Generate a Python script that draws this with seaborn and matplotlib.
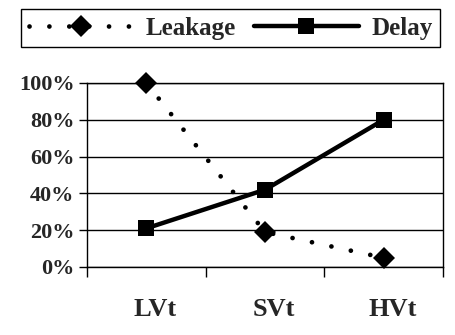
import matplotlib
matplotlib.use("Agg")
import matplotlib.pyplot as plt
import matplotlib.transforms as mtransforms
import seaborn as sns
import pandas as pd
from matplotlib.ticker import FixedLocator, PercentFormatter

categories = ["LVt", "SVt", "HVt"]
leakage = [1.00, 0.19, 0.05]
delay = [0.21, 0.42, 0.80]
y_ticks = [0.0, 0.2, 0.4, 0.6, 0.8, 1.0]

sns.set_style("white")
plt.rcParams["font.family"] = ["Liberation Serif", "DejaVu Serif"]
plt.rcParams["font.weight"] = "bold"

df = pd.DataFrame({
    "cat": categories * 2,
    "value": leakage + delay,
    "series": ["Leakage"] * 3 + ["Delay"] * 3,
})

fig = plt.figure(figsize=(4.56, 3.35), dpi=100)
ax = fig.add_axes([87 / 456, 1 - 267 / 335, (443 - 87) / 456, (267 - 83) / 335])

sns.lineplot(data=df[df.series == "Leakage"], x="cat", y="value", ax=ax,
             color="black", lw=3.4, linestyle=(0, (0.01, 4.2)), dash_capstyle="round",
             marker="D", markersize=11.5, markeredgewidth=0, label="Leakage",
             clip_on=False, zorder=5)
sns.lineplot(data=df[df.series == "Delay"], x="cat", y="value", ax=ax,
             color="black", lw=3.2, marker="s", markersize=11, markeredgewidth=0,
             label="Delay", clip_on=False, zorder=6)

ax.set_xlim(-0.5, 2.5)
ax.set_ylim(0, 1)
ax.set_xlabel("")
ax.set_ylabel("")
ax.yaxis.set_major_locator(FixedLocator(y_ticks))
ax.yaxis.set_major_formatter(PercentFormatter(1.0, decimals=0))
ax.grid(axis="y", color="black", lw=1)
ax.set_axisbelow(True)
for s in ax.spines.values():
    s.set_color("black")
    s.set_linewidth(1)
ax.tick_params(axis="y", left=True, length=6, width=1, color="black", labelsize=16, pad=3)
ax.set_xticks([0, 1, 2])
ax.set_xticklabels(categories)
ax.set_xticks([-0.5, 0.5, 1.5, 2.5], minor=True)
ax.tick_params(axis="x", which="major", bottom=False, labelsize=19, pad=19)
ax.tick_params(axis="x", which="minor", bottom=True, length=7, width=1, color="black")
offset = mtransforms.ScaledTranslation(9 / 100, 0, fig.dpi_scale_trans)
for t in ax.get_xticklabels():
    t.set_transform(t.get_transform() + offset)
for t in ax.get_xticklabels() + ax.get_yticklabels():
    t.set_fontweight("bold")

ax.get_legend().remove()
h, l = ax.get_legend_handles_labels()
leg = fig.legend(h, l, ncol=2, loc="center",
                 bbox_to_anchor=((18 + 443) / 2 / 456, 1 - 28 / 335),
                 frameon=True, fancybox=False, edgecolor="black", framealpha=1,
                 prop={"family": "Liberation Serif", "weight": "bold", "size": 18},
                 handlelength=4.2, handletextpad=0.5, columnspacing=0.7,
                 borderpad=0.3, borderaxespad=0)
leg.get_frame().set_linewidth(1)

fig.savefig("out.png", dpi=100)
